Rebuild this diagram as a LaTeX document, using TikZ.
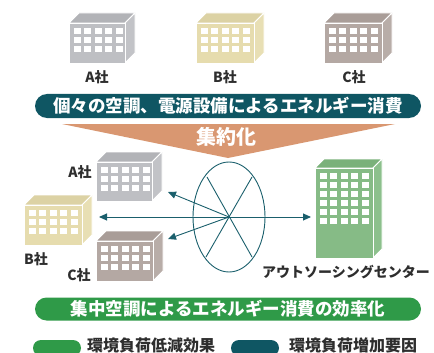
\documentclass[tikz,border=0pt]{standalone}
\usepackage{fontspec}
\setmainfont{Noto Sans CJK JP}
\usetikzlibrary{arrows.meta}

\definecolor{tealdark}{HTML}{0F5663}
\definecolor{tealline}{HTML}{1A5F6C}
\definecolor{orangearrow}{HTML}{D99771}
\definecolor{greenbar}{HTML}{2F9A48}
\definecolor{labelgray}{HTML}{2E2E2E}
% building colours: front, top, side
\definecolor{grayF}{HTML}{BEBFC3}\definecolor{grayT}{HTML}{B2B3B7}\definecolor{grayS}{HTML}{C2C3C7}
\definecolor{beigeF}{HTML}{E6DCAE}\definecolor{beigeT}{HTML}{DCD2A4}\definecolor{beigeS}{HTML}{E8DFB4}
\definecolor{brownF}{HTML}{B4A8A3}\definecolor{brownT}{HTML}{A99D98}\definecolor{brownS}{HTML}{B8ADA8}
\definecolor{greenF}{HTML}{86BB86}\definecolor{greenT}{HTML}{7AB17A}\definecolor{greenS}{HTML}{8CC08C}

% #1 x, #2 y of front top-left, #3 width, #4 height, #5 colour prefix, #6 window rows, #7 depth
\newcommand\officeblock[7]{%
  \fill[#5T,draw=white,line width=0.8pt] (#1,#2) -- ({#1+#7},{#2-#7}) -- ({#1+#3+#7},{#2-#7}) -- ({#1+#3},#2) -- cycle;
  \fill[#5S,draw=white,line width=0.8pt] ({#1+#3},#2) -- ({#1+#3+#7},{#2-#7}) -- ({#1+#3+#7},{#2+#4-#7}) -- ({#1+#3},{#2+#4}) -- cycle;
  \fill[#5F,draw=white,line width=0.8pt] (#1,#2) rectangle ({#1+#3},{#2+#4});
  \foreach \r in {1,...,#6}{
    \foreach \c in {0,...,4}{
      \fill[white] ({#1+5+\c*10.4},{#2+5+(\r-1)*9}) rectangle ++(7,6);
    }
  }
}

\tikzset{
  banner/.style={fill=#1, text=white, rounded corners=12pt, minimum height=24pt,
    font=\bfseries\fontsize{17.5}{18}\selectfont, inner sep=0pt},
  coname/.style={text=labelgray, font=\bfseries\fontsize{14}{14}\selectfont, inner sep=0pt},
  legendtext/.style={text=labelgray, font=\bfseries\fontsize{16}{16}\selectfont, inner sep=0pt, anchor=west},
  pill/.style={fill=#1, rounded corners=8pt, minimum width=48pt, minimum height=16pt, inner sep=0pt},
  ray/.style={draw=tealline, line width=0.9pt},
  tip/.style={ray, -{Triangle[length=8pt,width=7pt]}}
}

\begin{document}
\begin{tikzpicture}[x=1pt,y=-1pt]
\useasboundingbox (0,0) rectangle (434,353);
\clip (0,0) rectangle (434,353);

% separate offices of three companies
\officeblock{69}{23}{56}{40}{gray}{3}{10}
\officeblock{196}{23}{58}{40}{beige}{3}{10}
\officeblock{324}{23}{58}{40}{brown}{3}{10}
\node[coname] (la) at (97,77) {A社};
\node[coname] (lb) at (225,77) {B社};
\node[coname] (lc) at (354,77) {C社};

% individual energy use
\node[banner=tealdark, minimum width=386pt] (b1) at (228,106) {個々の空調、電源設備によるエネルギー消費};

% consolidation arrow
\fill[orangearrow] (62,124) -- (395,124) -- (228,158) -- cycle;
\node[text=white, font=\bfseries\fontsize{20}{20}\selectfont, inner sep=0pt] (agg) at (226,137) {集約化};

% offices after consolidation
\officeblock{96}{162}{56}{39}{gray}{3}{10}
\officeblock{24}{205}{58}{40}{beige}{3}{10}
\officeblock{96}{241}{57}{40}{brown}{3}{10}
\node[coname] (ma) at (80,172) {A社};
\node[coname] (mb) at (36,259) {B社};
\node[coname] (mc) at (79,275) {C社};

% outsourcing center
\officeblock{315}{168}{58}{90}{green}{6}{9}
\node[coname, font=\bfseries\fontsize{14}{14}\selectfont] (oc) at (346,272) {アウトソーシングセンター};

% distribution hub
\coordinate (hub) at (229,217);
\draw[ray] (hub) ellipse [x radius=36, y radius=55];
\coordinate (e1) at (207,177);
\coordinate (e2) at (252,177);
\coordinate (e3) at (206,257);
\coordinate (e4) at (252,257);
\draw[ray] (e1) -- (e4);
\draw[ray] (e2) -- (e3);
\coordinate (ta) at (168,192);
\coordinate (tb) at (99,217);
\coordinate (tc) at (168,239);
\coordinate (to) at (311,217);
\draw[tip] (hub) -- (ta);
\draw[tip] (hub) -- (tc);
\draw[tip] (hub) -- (tb);
\draw[tip] (hub) -- (to);

% efficient energy use
\node[banner=greenbar, minimum width=386pt, minimum height=23pt, rounded corners=11.5pt] (b2) at (228,309) {集中空調によるエネルギー消費の効率化};

% legend
\node[pill=greenbar] (pg) at (57,348) {};
\node[legendtext] (tg) at (87,345.5) {環境負荷低減効果};
\node[pill=tealdark] (pt) at (255,348) {};
\node[legendtext] (tt) at (289,345.5) {環境負荷増加要因};
\end{tikzpicture}
\end{document}
